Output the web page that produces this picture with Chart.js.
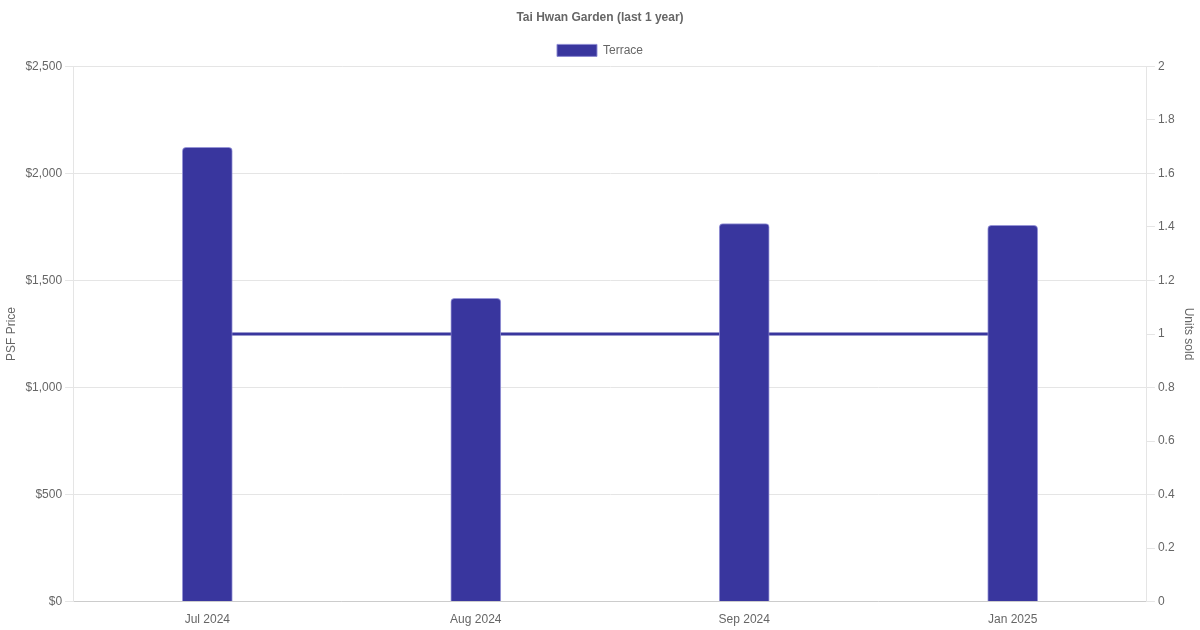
<!DOCTYPE html>
<html>
<head>
<meta charset="utf-8">
<script src="https://cdn.jsdelivr.net/npm/chart.js@4"></script>
<style>
  html, body { margin: 0; padding: 0; background: #fff; }
  #wrap { width: 1200px; height: 630px; }
</style>
</head>
<body>
<div id="wrap"><canvas id="myChart"></canvas></div>
<script>
var months = ['Jul 2024', 'Aug 2024', 'Sep 2024', 'Jan 2025'];
var psfPrice = [2122, 1417, 1766, 1758];
var unitsSold = [1, 1, 1, 1];

Chart.defaults.font.family = "'Liberation Sans', Arial, sans-serif";
Chart.defaults.font.size = 12;
Chart.defaults.color = '#666';

var ctx = document.getElementById('myChart');

var chart = new Chart(ctx, {
	type: 'bar',
	data: {
		labels: months,
		datasets: [
			{
				label: 'Terrace',
				data: psfPrice,
				backgroundColor: '#39369e',
				borderColor: 'rgba(140,138,210,0.9)',
				borderWidth: 1,
				borderRadius: 4,
				borderSkipped: 'bottom',
				barThickness: 50,
				yAxisID: 'y',
				order: 1
			},
			{
				type: 'line',
				label: 'Units sold',
				data: unitsSold,
				borderColor: '#39369e',
				backgroundColor: '#39369e',
				borderWidth: 3,
				pointRadius: 0,
				fill: false,
				tension: 0,
				yAxisID: 'y1',
				order: 2
			}
		]
	},
	options: {
		responsive: true,
		maintainAspectRatio: false,
		animation: false,
		layout: { padding: 0 },
		plugins: {
			title: {
				display: true,
				text: 'Tai Hwan Garden (last 1 year)',
				font: { size: 12, weight: 'bold' },
				color: '#666',
				padding: { top: 10, bottom: 10 }
			},
			legend: {
				labels: {
					boxWidth: 40,
					boxHeight: 12,
					color: '#666',
					filter: function(item){ return item.text === 'Terrace'; }
				}
			},
			tooltip: { enabled: false }
		},
		scales: {
			x: {
				grid: { display: false },
				border: { color: '#ccc' },
				ticks: { padding: 3 }
			},
			y: {
				position: 'left',
				min: 0,
				max: 2500,
				ticks: {
					stepSize: 500,
					callback: function(v){ return '$' + v.toLocaleString('en-US'); }
				},
				title: { display: true, text: 'PSF Price', color: '#666' },
				grid: { color: '#e5e5e5', tickLength: 8 },
				border: { color: '#e5e5e5' }
			},
			y1: {
				position: 'right',
				min: 0,
				max: 2,
				ticks: {
					stepSize: 0.2,
					callback: function(v){ return String(Math.round(v * 10) / 10); }
				},
				title: { display: true, text: 'Units sold', color: '#666' },
				grid: { drawOnChartArea: false, color: '#e5e5e5', tickLength: 8 },
				border: { color: '#e5e5e5' }
			}
		}
	}
});
</script>
</body>
</html>
